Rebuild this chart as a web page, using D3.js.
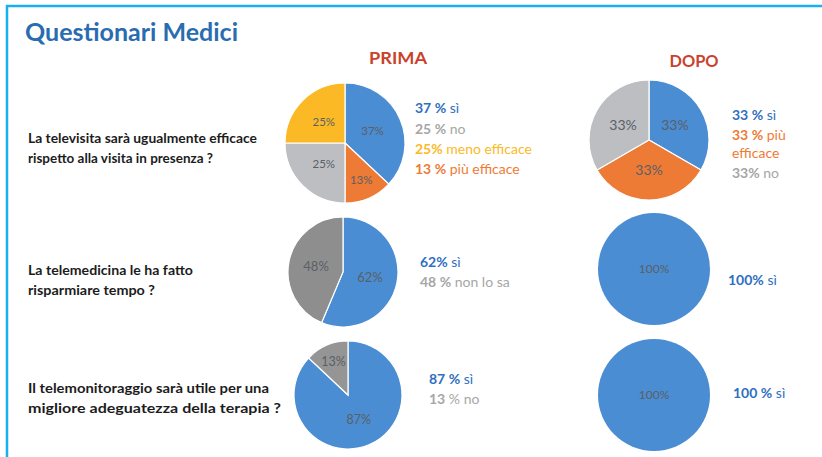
<!DOCTYPE html>
<html>
<head>
<meta charset="utf-8">
<script src="https://cdn.jsdelivr.net/npm/d3@7"></script>
<style>
  html, body { margin: 0; padding: 0; background: #ffffff; }
  svg { display: block; }
  text { font-family: Lato, "Open Sans", "DejaVu Sans", sans-serif; }
</style>
</head>
<body>
<script>
// ---------- DATA ----------
const chartTitle = "Questionari Medici";
const columnHeaders = ["PRIMA", "DOPO"];
const questionLines = [
  ["La televisita sarà ugualmente efficace", "rispetto alla visita in presenza ?"],
  ["La telemedicina le ha fatto", "risparmiare tempo ?"],
  ["Il telemonitoraggio sarà utile per una", "migliore adeguatezza della terapia ?"]
];

const q1PrimaCategories = ["sì", "più efficace", "no", "meno efficace"];
const q1PrimaValues = [37, 13, 25, 25];
const q1PrimaLegend = [["37 %", " sì"], ["25 %", " no"], ["25%", " meno efficace"], ["13 %", " più efficace"]];

const q1DopoCategories = ["sì", "più efficace", "no"];
const q1DopoValues = [33, 33, 33];
const q1DopoLegend = [["33 %", " sì"], ["33 %", " più"], ["", "efficace"], ["33%", " no"]];

const q2PrimaCategories = ["sì", "non lo sa"];
const q2PrimaValues = [62, 48];
const q2PrimaLegend = [["62%", " sì"], ["48 %", " non lo sa"]];

const q2DopoCategories = ["sì"];
const q2DopoValues = [100];
const q2DopoLegend = [["100%", " sì"]];

const q3PrimaCategories = ["sì", "no"];
const q3PrimaValues = [87, 13];
const q3PrimaLegend = [["87 %", " sì"], ["13", " % no"]];

const q3DopoCategories = ["sì"];
const q3DopoValues = [100];
const q3DopoLegend = [["100 %", " sì"]];

// ---------- STYLES / LAYOUT ----------
const W = 822, H = 457;
const BLUE = "#4a8dd3", ORANGE = "#ee7b35", LGREY = "#bcbec2", DGREY = "#8e8e8e", YELLOW = "#fcb926";
const T_BLUE = "#2f6fc0", T_GREY = "#a6a6a6", T_ORANGE = "#ee7b35", T_YELLOW = "#fcb926";

const pies = [
  { cats: q1PrimaCategories, values: q1PrimaValues, cx: 345, cy: 143, r: 60,
    colors: [BLUE, ORANGE, LGREY, YELLOW], labelSize: 11.5,
    legend: q1PrimaLegend, legendColors: [T_BLUE, T_GREY, T_YELLOW, T_ORANGE], lx: 415, ly: [108, 129, 149, 169] },
  { cats: q1DopoCategories, values: q1DopoValues, cx: 649, cy: 140, r: 60,
    colors: [BLUE, ORANGE, LGREY], labelSize: 14,
    legend: q1DopoLegend, legendColors: [T_BLUE, T_ORANGE, T_ORANGE, T_GREY], lx: 732, ly: [115, 135, 153, 173] },
  { cats: q2PrimaCategories, values: q2PrimaValues, cx: 343, cy: 272, r: 55,
    colors: [BLUE, DGREY], labelSize: 13,
    legend: q2PrimaLegend, legendColors: [T_BLUE, T_GREY], lx: 420, ly: [262, 282] },
  { cats: q2DopoCategories, values: q2DopoValues, cx: 654, cy: 269, r: 56,
    colors: [BLUE], labelSize: 12,
    legend: q2DopoLegend, legendColors: [T_BLUE], lx: 728, ly: [280] },
  { cats: q3PrimaCategories, values: q3PrimaValues, cx: 348, cy: 395, r: 54,
    colors: [BLUE, "#959595"], labelSize: 12.5,
    legend: q3PrimaLegend, legendColors: [T_BLUE, T_GREY], lx: 429, ly: [379, 399] },
  { cats: q3DopoCategories, values: q3DopoValues, cx: 654, cy: 395, r: 56,
    colors: [BLUE], labelSize: 12,
    legend: q3DopoLegend, legendColors: [T_BLUE], lx: 733, ly: [393] }
];

const svg = d3.select("body").append("svg").attr("width", W).attr("height", H);
svg.append("rect").attr("width", W).attr("height", H).attr("fill", "#ffffff");

// frame
svg.append("line").attr("x1", 6).attr("x2", W).attr("y1", 6).attr("y2", 6)
  .attr("stroke", "#18b0ee").attr("stroke-width", 2.5);
svg.append("line").attr("x1", 7).attr("x2", 7).attr("y1", 5).attr("y2", H)
  .attr("stroke", "#18b0ee").attr("stroke-width", 2.5);

// title
svg.append("text").attr("x", 25).attr("y", 41).text(chartTitle)
  .attr("font-size", 24).attr("font-weight", 700).attr("fill", "#2a6cb0")
  .attr("textLength", 213).attr("lengthAdjust", "spacingAndGlyphs");

// column headers
const headerX = [398, 694], headerY = [64, 67], headerW = [58, 49];
svg.selectAll("text.hdr").data(columnHeaders).join("text").attr("class", "hdr")
  .attr("x", (d, i) => headerX[i] - headerW[i] / 2).attr("y", (d, i) => headerY[i])
  .attr("font-size", 17).attr("font-weight", 700).attr("fill", "#c9432c")
  .attr("textLength", (d, i) => headerW[i]).attr("lengthAdjust", "spacingAndGlyphs")
  .text(d => d);

// questions
const qY = [[138, 158], [270, 290], [388, 408]];
const qW = [[229, 185], [165, 127], [241, 253]];
questionLines.forEach((lines, qi) => {
  lines.forEach((ln, li) => {
    svg.append("text").attr("x", 28).attr("y", qY[qi][li]).attr("dy", "0.35em")
      .attr("font-size", 13.5).attr("font-weight", 700).attr("fill", "#1c1c1c")
      .attr("textLength", qW[qi][li]).attr("lengthAdjust", "spacingAndGlyphs")
      .text(ln);
  });
});

// pies
const pieGen = d3.pie().sort(null).value(d => d.value);
pies.forEach(p => {
  const data = p.values.map((v, i) => ({ cat: p.cats[i], value: v }));
  const color = d3.scaleOrdinal().domain(p.cats).range(p.colors);
  const arcs = pieGen(data);
  const total = d3.sum(p.values);
  const arc = d3.arc().innerRadius(0).outerRadius(p.r);
  const g = svg.append("g").attr("transform", `translate(${p.cx},${p.cy})`);
  g.selectAll("path").data(arcs).join("path")
    .attr("d", arc).attr("fill", d => color(d.data.cat))
    .attr("stroke", "#ffffff").attr("stroke-width", arcs.length > 1 ? 1.2 : 0);
  g.selectAll("text").data(arcs).join("text")
    .attr("transform", d => {
      if (arcs.length === 1) return "translate(0,0)";
      const share = d.data.value / total;
      const lr = p.r * (share < 0.2 ? 0.68 : 0.5);
      const c = d3.arc().innerRadius(lr).outerRadius(lr).centroid(d);
      return `translate(${c[0]},${c[1]})`;
    })
    .attr("text-anchor", "middle").attr("dy", "0.35em")
    .attr("font-size", p.labelSize).attr("fill", "#5b5f66")
    .text(d => d.data.value + "%");

  // legend
  p.legend.forEach((item, i) => {
    const t = svg.append("text").attr("x", p.lx).attr("y", p.ly[i]).attr("dy", "0.35em")
      .attr("font-size", 14).attr("fill", p.legendColors[i]);
    if (item[0]) t.append("tspan").attr("font-weight", 700).text(item[0]);
    t.append("tspan").attr("font-weight", 400).attr("font-size", 14).text(item[1]);
  });
});
</script>
</body>
</html>
